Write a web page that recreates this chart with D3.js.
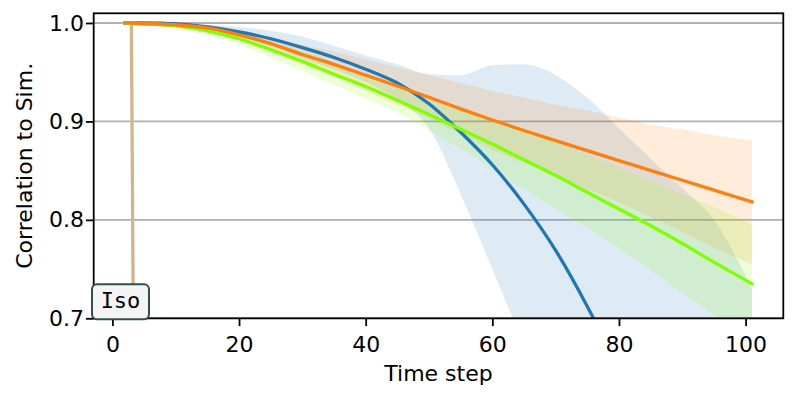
<!DOCTYPE html>
<html>
<head>
<meta charset="utf-8">
<script src="https://cdn.jsdelivr.net/npm/d3@7"></script>
<style>
  body { margin: 0; background: #fff; }
  text { font-family: "DejaVu Sans", sans-serif; }
</style>
</head>
<body>
<div id="chart"></div>
<script>
// Data
const steps = [2, 5, 10, 15, 20, 25, 30, 35, 40, 45, 50, 55, 60, 65, 70, 75, 80, 85, 90, 95, 101];

const blueMean = [1.0, 1.0, 0.999, 0.996, 0.991, 0.984, 0.975, 0.965, 0.953, 0.939, 0.918, 0.889, 0.856, 0.816, 0.769, 0.712, 0.647, 0.575, 0.50, 0.42, 0.31];
const blueLow  = [1.0, 0.9995, 0.998, 0.993, 0.986, 0.976, 0.964, 0.953, 0.94, 0.922, 0.893, 0.826, 0.75, 0.672, 0.59, 0.5, 0.4, 0.3, 0.2, 0.1, 0.0];
const blueHigh = [1.0, 1.0, 1.0, 0.998, 0.996, 0.992, 0.986, 0.977, 0.967, 0.958, 0.948, 0.947, 0.957, 0.958, 0.947, 0.924, 0.893, 0.862, 0.832, 0.8, 0.73];

const orangeMean = [1.0, 0.9995, 0.998, 0.995, 0.988, 0.979, 0.968, 0.958, 0.947, 0.936, 0.9245, 0.9128, 0.9015, 0.8908, 0.8805, 0.8703, 0.8602, 0.8502, 0.8402, 0.8302, 0.8182];
const orangeLow  = [1.0, 0.9985, 0.996, 0.992, 0.983, 0.972, 0.958, 0.945, 0.931, 0.917, 0.903, 0.887, 0.871, 0.858, 0.845, 0.831, 0.818, 0.803, 0.788, 0.772, 0.755];
const orangeHigh = [1.0, 1.0, 1.0, 0.998, 0.993, 0.986, 0.978, 0.971, 0.963, 0.955, 0.947, 0.939, 0.931, 0.924, 0.917, 0.911, 0.904, 0.897, 0.892, 0.886, 0.881];

const greenMean = [1.0, 0.999, 0.997, 0.992, 0.984, 0.973, 0.961, 0.948, 0.9355, 0.9215, 0.907, 0.892, 0.877, 0.861, 0.845, 0.828, 0.811, 0.794, 0.776, 0.757, 0.735];
const greenLow  = [1.0, 0.998, 0.994, 0.988, 0.978, 0.965, 0.951, 0.937, 0.923, 0.909, 0.891, 0.872, 0.852, 0.831, 0.811, 0.792, 0.771, 0.749, 0.726, 0.703, 0.675];
const greenHigh = [1.0, 1.0, 1.0, 0.996, 0.99, 0.981, 0.971, 0.959, 0.947, 0.935, 0.923, 0.912, 0.902, 0.891, 0.879, 0.866, 0.853, 0.839, 0.826, 0.813, 0.795];

const isoSteps = [2, 3, 4];
const isoValues = [1.0, 1.0, 0.0];

const xTicks = [0, 20, 40, 60, 80, 100];
const yTicks = [0.7, 0.8, 0.9, 1.0];

// Chart Params
const svgWidth = 797;
const svgHeight = 399;
const margin = { top: 13.3, right: 13.7, bottom: 80.7, left: 93.7 };
const width = svgWidth - margin.left - margin.right;
const height = svgHeight - margin.top - margin.bottom;

const svg = d3.select("#chart")
  .append("svg")
  .attr("width", svgWidth)
  .attr("height", svgHeight);

const chartGroup = svg.append("g")
  .attr("transform", `translate(${margin.left}, ${margin.top})`);

const xScale = d3.scaleLinear().domain([-2.95, 105.95]).range([0, width]);
const yScale = d3.scaleLinear().domain([0.7, 1.00985]).range([height, 0]);

svg.append("defs").append("clipPath")
  .attr("id", "plot-clip")
  .append("rect")
  .attr("width", width)
  .attr("height", height);

// grid
chartGroup.append("g")
  .selectAll("line")
  .data(yTicks)
  .enter()
  .append("line")
  .attr("x1", 0)
  .attr("x2", width)
  .attr("y1", d => yScale(d))
  .attr("y2", d => yScale(d))
  .attr("stroke", "#b0b0b0")
  .attr("stroke-width", 1.8);

const plot = chartGroup.append("g").attr("clip-path", "url(#plot-clip)");

const series = [
  { mean: blueMean, low: blueLow, high: blueHigh, color: "#1f77b4" },
  { mean: orangeMean, low: orangeLow, high: orangeHigh, color: "#ff7f0e" },
  { mean: greenMean, low: greenLow, high: greenHigh, color: "#7fff00" }
];

const area = d3.area()
  .x(d => xScale(d.t))
  .y0(d => yScale(d.lo))
  .y1(d => yScale(d.hi))
  .curve(d3.curveMonotoneX);

const line = d3.line()
  .x(d => xScale(d.t))
  .y(d => yScale(d.v))
  .curve(d3.curveMonotoneX);

// bands
series.forEach(s => {
  const rows = steps.map((t, i) => ({ t: t, lo: s.low[i], hi: s.high[i] }));
  plot.append("path")
    .datum(rows)
    .attr("d", area)
    .attr("fill", s.color)
    .attr("fill-opacity", 0.15);
});

// Iso line
plot.append("path")
  .datum(isoSteps.map((t, i) => ({ t: t, v: isoValues[i] })))
  .attr("d", d3.line().x(d => xScale(d.t)).y(d => yScale(d.v)))
  .attr("fill", "none")
  .attr("stroke", "#d2b48c")
  .attr("stroke-width", 3.3)
  .attr("stroke-linecap", "square");

// mean lines: blue, green, orange on top
[series[0], series[2], series[1]].forEach(s => {
  plot.append("path")
    .datum(steps.map((t, i) => ({ t: t, v: s.mean[i] })))
    .attr("d", line)
    .attr("fill", "none")
    .attr("stroke", s.color)
    .attr("stroke-width", 3.3)
    .attr("stroke-linecap", "square")
    .attr("stroke-linejoin", "round");
});

// axes
const bottomAxis = d3.axisBottom(xScale)
  .tickValues(xTicks)
  .tickFormat(d3.format("d"))
  .tickSize(7.8)
  .tickPadding(9.8);

const leftAxis = d3.axisLeft(yScale)
  .tickValues(yTicks)
  .tickFormat(d3.format(".1f"))
  .tickSize(7.8)
  .tickPadding(2);

const xAxis = chartGroup.append("g")
  .attr("transform", `translate(0, ${height})`)
  .call(bottomAxis);

const yAxis = chartGroup.append("g")
  .call(leftAxis);

[xAxis, yAxis].forEach(a => {
  a.select(".domain").remove();
  a.selectAll(".tick line").attr("stroke", "#000").attr("stroke-width", 1.8);
  a.selectAll(".tick text")
    .attr("fill", "#000")
    .style("font-family", "DejaVu Sans")
    .style("font-size", "22px");
});

// spines
chartGroup.append("rect")
  .attr("width", width)
  .attr("height", height)
  .attr("fill", "none")
  .attr("stroke", "#000")
  .attr("stroke-width", 1.8);

// axis titles
chartGroup.append("text")
  .attr("x", width / 2)
  .attr("y", 381 - margin.top)
  .attr("text-anchor", "middle")
  .style("font-size", "22px")
  .text("Time step");

svg.append("text")
  .attr("transform", `translate(31.5, ${margin.top + height / 2}) rotate(-90)`)
  .attr("text-anchor", "middle")
  .style("font-size", "22px")
  .text("Correlation to Sim.");

// anchored label box
const isoBox = chartGroup.append("g")
  .attr("transform", `translate(-1.7, ${height - 34})`);

isoBox.append("rect")
  .attr("width", 57)
  .attr("height", 35)
  .attr("rx", 5)
  .attr("fill", "#f4f4f4")
  .attr("stroke", "#2f4f4f")
  .attr("stroke-width", 2);

isoBox.append("text")
  .attr("x", 28.5)
  .attr("y", 23.5)
  .attr("text-anchor", "middle")
  .style("font-family", "DejaVu Sans Mono")
  .style("font-size", "22px")
  .text("Iso");
</script>
</body>
</html>
